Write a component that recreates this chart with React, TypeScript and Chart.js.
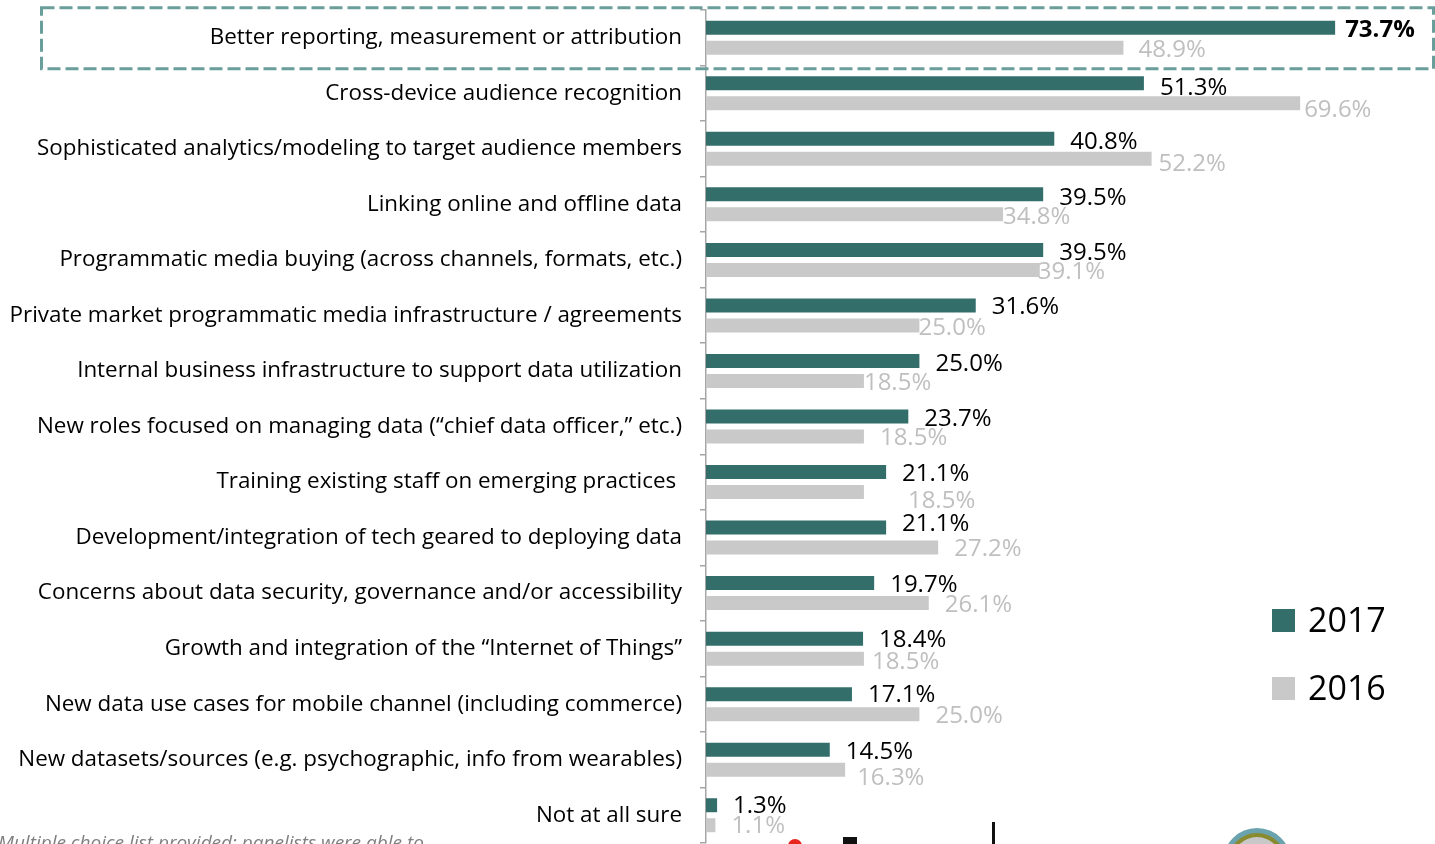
import { useEffect, useRef } from "react";
import { Chart, registerables } from "chart.js";

Chart.register(...registerables);

const categories = [
  "Better reporting, measurement or attribution",
  "Cross-device audience recognition",
  "Sophisticated analytics/modeling to target audience members",
  "Linking online and offline data",
  "Programmatic media buying (across channels, formats, etc.)",
  "Private market programmatic media infrastructure / agreements",
  "Internal business infrastructure to support data utilization",
  "New roles focused on managing data (\u201cchief data officer,\u201d etc.)",
  "Training existing staff on emerging practices ",
  "Development/integration of tech geared to deploying data",
  "Concerns about data security, governance and/or accessibility",
  "Growth and integration of the \u201cInternet of Things\u201d",
  "New data use cases for mobile channel (including commerce)",
  "New datasets/sources (e.g. psychographic, info from wearables)",
  "Not at all sure",
];

const values2017 = [73.7, 51.3, 40.8, 39.5, 39.5, 31.6, 25.0, 23.7, 21.1, 21.1, 19.7, 18.4, 17.1, 14.5, 1.3];
const values2016 = [48.9, 69.6, 52.2, 34.8, 39.1, 25.0, 18.5, 18.5, 18.5, 27.2, 26.1, 18.5, 25.0, 16.3, 1.1];

const seriesNames = ["2017", "2016"];
const footnote = "Multiple choice list provided; panelists were able to";

// label placement nudges (dx, dy) relative to the end of each bar
const nudge2017: number[][] = [
  [10, 2], [16, 5], [16, 3], [16, 4], [16, 3], [16, 2], [16, 3], [16, 3],
  [16, 2], [16, -3], [16, 2], [16, 2], [16, 1], [16, 2], [16, 1],
];
const nudge2016: number[][] = [
  [15, 2], [4, 7], [7, 5], [0, 3], [-2, 2], [-1, 3], [0, 2], [16, 2],
  [44, 9], [16, 2], [16, 2], [8, 4], [16, 2], [12, 8], [16, 1],
];

const TEAL = "#336e6b";
const GREY = "#c9c9c9";
const LABEL_GREY = "#bfbfbf";
const DASH = "#6a9e9b";
const FONT = "'Open Sans', Lato, sans-serif";

const overlay = {
  id: "overlay",
  afterDatasetsDraw(chart: any) {
    const ctx = chart.ctx as CanvasRenderingContext2D;
    ctx.save();
    // value labels
    chart.data.datasets.forEach((ds: any, di: number) => {
      const meta = chart.getDatasetMeta(di);
      meta.data.forEach((bar: any, i: number) => {
        const p = bar.getProps(["x", "y"], true);
        const v = ds.data[i] as number;
        const n = di === 0 ? nudge2017[i] : nudge2016[i];
        ctx.fillStyle = di === 0 ? "#000" : LABEL_GREY;
        const bold = di === 0 && i === 0;
        ctx.font = `${bold ? "bold " : ""}24px ${FONT}`;
        ctx.textAlign = "left";
        ctx.textBaseline = "middle";
        ctx.fillText(v.toFixed(1) + "%", p.x + n[0], p.y + n[1]);
      });
    });

    // dashed highlight around the first category
    const ys = chart.scales.y;
    const cy = ys.getPixelForValue(0);
    ctx.strokeStyle = DASH;
    ctx.lineWidth = 3;
    ctx.setLineDash([13, 5]);
    ctx.strokeRect(41.5, cy - 30, chart.width - 43, 61);
    ctx.setLineDash([]);

    // legend
    const lx = 1272;
    const items = [
      { name: seriesNames[0], color: TEAL, y: 609 },
      { name: seriesNames[1], color: GREY, y: 677 },
    ];
    items.forEach((it) => {
      ctx.fillStyle = it.color;
      ctx.fillRect(lx, it.y, 23, 23);
      ctx.fillStyle = "#000";
      ctx.font = `34px ${FONT}`;
      ctx.textAlign = "left";
      ctx.textBaseline = "middle";
      ctx.fillText(it.name, lx + 36, it.y + 13);
    });

    // footnote
    ctx.fillStyle = "#7f7f7f";
    ctx.font = `italic 19px ${FONT}`;
    ctx.textAlign = "left";
    ctx.textBaseline = "alphabetic";
    ctx.fillText(footnote, -2, 849);

    // partial logos at the bottom edge
    ctx.fillStyle = "#e8251f";
    ctx.beginPath();
    ctx.arc(795, 846, 7, 0, Math.PI * 2);
    ctx.fill();
    ctx.fillStyle = "#111";
    ctx.fillRect(843, 837, 14, 10);
    ctx.fillRect(992, 822, 3, 24);
    ctx.beginPath();
    ctx.arc(1257, 862, 34, 0, Math.PI * 2);
    ctx.fillStyle = "#6aa3ad";
    ctx.fill();
    ctx.beginPath();
    ctx.arc(1257, 862, 29, 0, Math.PI * 2);
    ctx.fillStyle = "#8a8a2e";
    ctx.fill();
    ctx.beginPath();
    ctx.arc(1257, 862, 25, 0, Math.PI * 2);
    ctx.fillStyle = "#c8c8c8";
    ctx.fill();
    ctx.restore();
  },
};

export default function App() {
  const ref = useRef<HTMLCanvasElement | null>(null);

  useEffect(() => {
    const canvas = ref.current;
    if (!canvas) return;
    const chart = new Chart(canvas, {
      type: "bar",
      data: {
        labels: categories,
        datasets: [
          { label: seriesNames[0], data: values2017, backgroundColor: TEAL, categoryPercentage: 0.72, barPercentage: 0.7 },
          { label: seriesNames[1], data: values2016, backgroundColor: GREY, categoryPercentage: 0.72, barPercentage: 0.7 },
        ],
      },
      options: {
        indexAxis: "y",
        responsive: false,
        animation: false,
        layout: { padding: { top: 10, bottom: 1, left: 0, right: 0 } },
        plugins: { legend: { display: false }, tooltip: { enabled: false } },
        scales: {
          x: { display: false, min: 0, max: 85.4 },
          y: {
            grid: { display: true, drawOnChartArea: false, drawTicks: true, tickLength: 6, color: "#a6a6a6", offset: true, lineWidth: 1.5 },
            border: { display: true, color: "#a6a6a6", width: 1.5 },
            ticks: { color: "#000", font: { family: FONT, size: 22.4 }, padding: 18, autoSkip: false },
            afterFit: (s: any) => {
              s.width = 706;
              s.paddingTop = 0;
              s.paddingBottom = 0;
            },
          },
        },
      },
      plugins: [overlay],
    } as any);
    return () => chart.destroy();
  }, []);

  return (
    <div style={{ position: "fixed", left: 0, top: 0, width: 1435, height: 844, background: "#fff" }}>
      <canvas ref={ref} width={1435} height={844} style={{ display: "block" }} />
    </div>
  );
}
